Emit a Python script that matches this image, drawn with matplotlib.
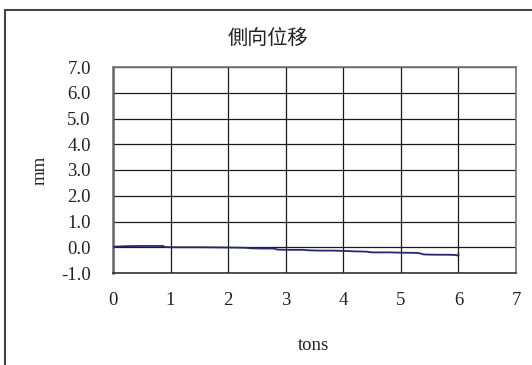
import matplotlib
matplotlib.use("Agg")
import matplotlib.pyplot as plt
import matplotlib.patches as mpatches

# lateral displacement (mm) vs load (tons)
tons = [0.0, 0.2, 0.5, 0.87, 0.9, 1.0, 1.5, 2.0, 2.3, 2.4, 2.6, 2.8, 2.85, 3.0, 3.3,
        3.4, 3.6, 3.8, 4.0, 4.2, 4.4, 4.5, 4.8, 5.0, 5.3, 5.4, 5.6, 5.8, 5.95, 6.0, 6.0]
mm = [0.02, 0.04, 0.05, 0.05, 0.01, 0.0, 0.0, -0.01, -0.02, -0.04, -0.05, -0.05, -0.09, -0.1, -0.1,
      -0.12, -0.13, -0.13, -0.14, -0.16, -0.17, -0.2, -0.2, -0.21, -0.22, -0.28, -0.29, -0.29, -0.3, -0.33, -0.27]

x_ticks = [0, 1, 2, 3, 4, 5, 6, 7]
y_ticks = [-1.0, 0.0, 1.0, 2.0, 3.0, 4.0, 5.0, 6.0, 7.0]

W, H = 532, 365
fig = plt.figure(figsize=(W / 100, H / 100), dpi=100)
ax = fig.add_axes([113 / W, 1 - 273 / H, (516 - 113) / W, (273 - 67) / H])

serif = ["Liberation Serif", "DejaVu Serif"]

ax.plot(tons, mm, color="#23296b", linewidth=1.3, zorder=3)

ax.set_xlim(0, 7)
ax.set_ylim(-1, 7)
ax.set_xticks(x_ticks)
ax.set_yticks(y_ticks)
ax.set_xticklabels([str(t) for t in x_ticks], family=serif, fontsize=13.5)
ax.set_yticklabels([f"{v:.1f}" for v in y_ticks], family=serif, fontsize=13.5)
ax.tick_params(axis="both", length=0, colors="#222222")
ax.tick_params(axis="y", pad=16)
ax.tick_params(axis="x", pad=14)
ax.grid(True, color="#1a1a1a", linewidth=0.9)
ax.set_axisbelow(True)
for side, sp in ax.spines.items():
    sp.set_color("#777777" if side in ("top", "right") else "#333333")
    sp.set_linewidth(1.2)
ax.spines["left"].set_color("#666666")
ax.spines["left"].set_linewidth(1.8)

fig.text(268 / W, 1 - 38 / H, "側向位移", ha="center", va="center", fontsize=14.5,
         family=["Noto Sans CJK TC", "DejaVu Sans"], color="#222222")
fig.text(314 / W, 1 - 345 / H, "tons", ha="center", va="center", fontsize=13.5,
         family=serif, color="#222222")
fig.text(40 / W, 1 - 170 / H, "mm", ha="center", va="center", rotation=90, fontsize=13.5,
         family=serif, color="#222222")

# outer chart frame (cut off at right and bottom)
fig.patches.append(mpatches.Rectangle((5 / W, -0.2), 1.2, 1.2 - 10 / H, transform=fig.transFigure,
                                      fill=False, edgecolor="#444444", linewidth=1.5))

fig.savefig("out.png", dpi=100)
